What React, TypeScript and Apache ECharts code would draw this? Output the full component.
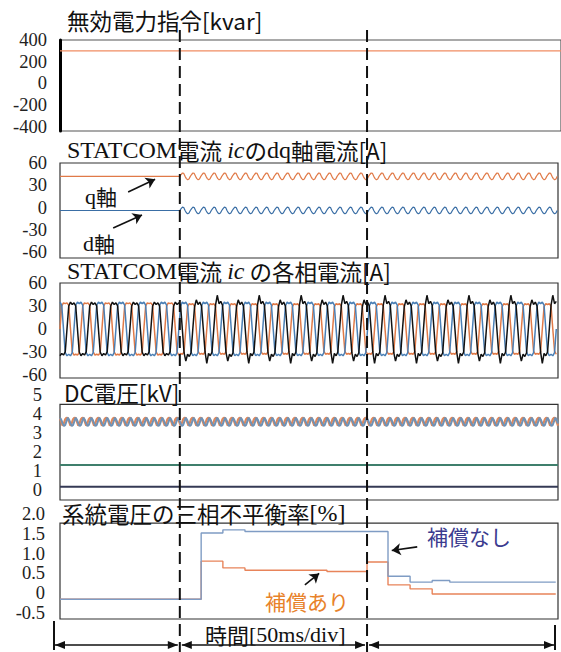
import React, { useEffect, useRef } from "react";
import * as echarts from "echarts";

// ---------- time frame (ms) ----------
const T_END = 133;
const T_END_PANEL1 = 134.6;
const T_MARK_1 = 32;
const T_MARK_2 = 82;

// ---------- panel 1 : reactive power command ----------
const Q_CMD_TIMES = [0, 134.6];
const Q_CMD_KVAR = [300, 300];
const Q_CMD_TICKS = [400, 200, 0, -200, -400];

// ---------- panel 2 : dq currents ----------
const DQ_TICKS = [60, 30, 0, -30, -60];
const Q_AXIS_STEADY = 42;
const D_AXIS_STEADY = -4;
const DQ_RIPPLE_STEP = 0.35;
const Q_RIPPLE_CYCLE = [42, 44.5, 46.5, 46, 42, 39, 37.5, 38.5];
const D_RIPPLE_CYCLE = [-4, -1.5, 0.5, 0, -4, -7, -8.5, -7.5];
const Q_ARROW = [[18.2, 21], [25.4, 38]];
const D_ARROW = [[14.2, -27.6], [21.9, -10]];

// ---------- panel 3 : phase currents ----------
const PHASE_TICKS = [60, 30, 0, -30, -60];
const PHASE_STEP = 0.4667;
const ORANGE_PRE = [0, 30, 34, 33, 34, 31, 0, -30, -34, -33, -34, -31];
const BLUE_PRE = [0, 31, 35, 33, 35, 31, 0, -31, -35, -33, -35, -31];
const BLACK_PRE = [0, 30, 35, 32, 34, 30, 0, -30, -35, -32, -34, -30];
const ORANGE_POST = [0, 29, 33, 32, 33, 30, 0, -29, -33, -32, -33, -30];
const BLUE_POST = [0, 30, 35, 33, 35, 31, 0, -30, -35, -33, -35, -31];
const BLACK_POST = [0, 31, 44, 33, 36, 31, 0, -31, -42, -33, -36, -31, 0, 29, 38, 32, 35, 30, 0, -30, -45, -32, -35, -30];

// ---------- panel 4 : DC voltage ----------
const DC_TICKS = [5, 4, 3, 2, 1, 0];
const DC_FRAME = [-0.55, 4.5];
const DC_STEP = 0.35;
const DC_ORANGE_CYCLE = [3.78, 3.58, 3.38, 3.52, 3.72, 3.8];
const DC_BLUE_CYCLE = [3.42, 3.62, 3.8, 3.68, 3.5, 3.36];
const DC_GREEN_KV = 1.3;
const DC_DARK_KV = 0.15;

// ---------- panel 5 : unbalance rate ----------
const UNBAL_TICKS = [2.0, 1.5, 1.0, 0.5, 0, -0.5];
const UNBAL_FRAME = [-0.65, 1.77];
const UNBAL_BLUE_TIMES = [0, 37.7, 43.5, 49.4, 87.6, 93.5, 99.4, 104.1, 132.4];
const UNBAL_BLUE_VALUES = [-0.15, 1.52, 1.6, 1.56, 0.43, 0.28, 0.32, 0.28, 0.28];
const UNBAL_ORANGE_TIMES = [0, 37.7, 43.5, 49.4, 71.3, 82, 87.6, 93.5, 99.4, 132.4];
const UNBAL_ORANGE_VALUES = [-0.15, 0.81, 0.64, 0.58, 0.55, 0.79, 0.21, 0.11, -0.02, -0.02];
const NASHI_ARROW = [[95.4, 1.17], [88.6, 1.08]];
const ARI_ARROW = [[65.4, 0.21], [69.2, 0.5]];

// ---------- styles ----------
const CJK = "Noto Sans CJK JP";
const SERIF = "Liberation Serif";
const C_ORANGE = "#e07a48";
const C_BLUE = "#3a6ea5";
const C_BLACK = "#111";

function tile(cycle: number[], step: number, t0: number, t1: number, offset = 0) {
  const out: number[][] = [];
  for (let i = 0; ; i++) {
    const t = t0 + i * step;
    if (t > t1 + 1e-9) break;
    out.push([+t.toFixed(4), cycle[(i + offset) % cycle.length]]);
  }
  return out;
}

function phase(pre: number[], post: number[], offset: number) {
  const out: number[][] = [];
  for (let i = 0; ; i++) {
    const t = i * PHASE_STEP;
    if (t > T_END + 1e-9) break;
    const tpl = t < T_MARK_1 ? pre : post;
    out.push([+t.toFixed(4), tpl[(i + offset) % tpl.length]]);
  }
  return out;
}

const zip = (a: number[], b: number[]) => a.map((x, i) => [x, b[i]]);

const arrowLine = (pts: number[][]) => ({
  silent: true,
  symbol: ["none", "arrow"],
  symbolSize: 9,
  label: { show: false },
  lineStyle: { color: "#111", width: 1.6, type: "solid" },
  emphasis: { disabled: true },
  data: [[{ coord: pts[0] }, { coord: pts[1] }]],
});

const frameArea = (range: number[]) => ({
  silent: true,
  itemStyle: { color: "rgba(0,0,0,0)", borderColor: "#333", borderWidth: 1.2 },
  label: { show: false },
  emphasis: { disabled: true },
  data: [[{ yAxis: range[0] }, { yAxis: range[1] }]],
});

const yLabel = (ticks: number[], margin: number, fmt?: (v: number) => string) => ({
  show: true,
  customValues: ticks,
  margin,
  fontFamily: SERIF,
  fontSize: 18.5,
  color: "#222",
  formatter: fmt || ((v: number) => String(v)),
});

export default function App() {
  const ref = useRef<HTMLDivElement>(null);
  useEffect(() => {
    document.body.style.margin = "0";
    if (!ref.current) return;
    const chart = echarts.init(ref.current, undefined, { renderer: "svg" });

    const grids = [
      { left: 60, right: -3, top: 40, height: 91, show: true, borderColor: "#555", borderWidth: 1.2 },
      { left: 60, right: 3, top: 163, height: 95, show: true, borderColor: "#333", borderWidth: 1.2 },
      { left: 60, right: 3, top: 283, height: 95, show: true, borderColor: "#333", borderWidth: 1.2 },
      { left: 60, right: 3, top: 395, height: 105, show: false },
      { left: 60, right: 3, top: 514, height: 105, show: false },
    ];
    const xAxes = grids.map((_, i) => ({
      type: "value",
      gridIndex: i,
      min: 0,
      max: i === 0 ? T_END_PANEL1 : T_END,
      show: false,
    }));
    const yBase = { type: "value", splitLine: { show: false }, axisTick: { show: false } };
    const yAxes = [
      { ...yBase, gridIndex: 0, min: -437, max: 400, axisLine: { show: true, lineStyle: { color: "#000", width: 3 } }, axisLabel: yLabel(Q_CMD_TICKS, 13) },
      { ...yBase, gridIndex: 1, min: -68, max: 60, axisLine: { show: false }, axisLabel: yLabel(DQ_TICKS, 13) },
      { ...yBase, gridIndex: 2, min: -64, max: 60, axisLine: { show: false }, axisLabel: yLabel(PHASE_TICKS, 13) },
      { ...yBase, gridIndex: 3, min: -0.55, max: 5, axisLine: { show: false }, axisLabel: yLabel(DC_TICKS, 18) },
      { ...yBase, gridIndex: 4, min: -0.65, max: 2.0, axisLine: { show: false }, axisLabel: yLabel(UNBAL_TICKS, 15, (v) => (v === 0 ? "0" : v.toFixed(1))) },
    ];

    const base = { type: "line", showSymbol: false, symbol: "none", silent: true, animation: false };
    const qData = [[0, Q_AXIS_STEADY], ...tile(Q_RIPPLE_CYCLE, DQ_RIPPLE_STEP, T_MARK_1, T_END)];
    const dData = [[0, D_AXIS_STEADY], ...tile(D_RIPPLE_CYCLE, DQ_RIPPLE_STEP, T_MARK_1, T_END)];

    const series: any[] = [
      { ...base, xAxisIndex: 0, yAxisIndex: 0, data: zip(Q_CMD_TIMES, Q_CMD_KVAR), lineStyle: { color: "#f08c62", width: 1.2 } },
      { ...base, xAxisIndex: 1, yAxisIndex: 1, data: qData, lineStyle: { color: C_ORANGE, width: 1.2 }, markLine: arrowLine(Q_ARROW) },
      { ...base, xAxisIndex: 1, yAxisIndex: 1, data: dData, lineStyle: { color: C_BLUE, width: 1.2 }, markLine: arrowLine(D_ARROW) },
      { ...base, xAxisIndex: 2, yAxisIndex: 2, data: phase(ORANGE_PRE, ORANGE_POST, 0), lineStyle: { color: C_ORANGE, width: 1.5 } },
      { ...base, xAxisIndex: 2, yAxisIndex: 2, data: phase(BLUE_PRE, BLUE_POST, 4), lineStyle: { color: "#4a7fb5", width: 1.5 } },
      { ...base, xAxisIndex: 2, yAxisIndex: 2, data: phase(BLACK_PRE, BLACK_POST, 8), lineStyle: { color: C_BLACK, width: 1.5 } },
      { ...base, xAxisIndex: 3, yAxisIndex: 3, data: [[0, DC_DARK_KV], [T_END, DC_DARK_KV]], lineStyle: { color: "#353a55", width: 2 }, markArea: frameArea(DC_FRAME) },
      { ...base, xAxisIndex: 3, yAxisIndex: 3, data: [[0, DC_GREEN_KV], [T_END, DC_GREEN_KV]], lineStyle: { color: "#3f7f6c", width: 2.2 } },
      { ...base, xAxisIndex: 3, yAxisIndex: 3, data: tile(DC_ORANGE_CYCLE, DC_STEP, 0, T_END), lineStyle: { color: "#e0875a", width: 2.2 } },
      { ...base, xAxisIndex: 3, yAxisIndex: 3, data: tile(DC_BLUE_CYCLE, DC_STEP, 0, T_END, 2), lineStyle: { color: "#6f92b6", width: 2 } },
      { ...base, xAxisIndex: 4, yAxisIndex: 4, step: "end", data: zip(UNBAL_ORANGE_TIMES, UNBAL_ORANGE_VALUES), lineStyle: { color: "#e8845a", width: 1.4 }, markArea: frameArea(UNBAL_FRAME), markLine: arrowLine(ARI_ARROW) },
      { ...base, xAxisIndex: 4, yAxisIndex: 4, step: "end", data: zip(UNBAL_BLUE_TIMES, UNBAL_BLUE_VALUES), lineStyle: { color: "#7f9cc4", width: 1.4 }, markLine: arrowLine(NASHI_ARROW) },
    ];

    const rich = {
      s: { fontFamily: SERIF, fontSize: 24, color: "#111", lineHeight: 26 },
      i: { fontFamily: SERIF, fontSize: 24, fontStyle: "italic", color: "#111", lineHeight: 26 },
      j: { fontFamily: CJK, fontSize: 22.5, color: "#111", lineHeight: 26 },
    };
    const mkTitle = (text: string, left: number, top: number) => ({
      text,
      left,
      top,
      padding: 0,
      textStyle: { fontFamily: CJK, fontSize: 22.5, fontWeight: "normal", color: "#111", lineHeight: 26, rich },
    });

    chart.setOption({
      animation: false,
      backgroundColor: "#fff",
      title: [
        mkTitle("{j|無効電力指令[kvar]}", 67, 7),
        mkTitle("{s|STATCOM}{j|電流 }{i|ic}{j|の}{s|dq}{j|軸電流[A]}", 67, 137),
        mkTitle("{s|STATCOM}{j|電流 }{i|ic}{j| の各相電流[A]}", 67, 258),
        mkTitle("{j|DC電圧[kV]}", 64, 379),
        mkTitle("{j|系統電圧の三相不平衡率}{s|[%]}", 62, 500),
      ],
      grid: grids,
      xAxis: xAxes,
      yAxis: yAxes,
      series,
    });

    const px = (t: number) => (chart.convertToPixel({ gridIndex: 1 } as any, [t, 0]) as number[])[0];
    const x0 = px(0) - 6;
    const x1 = px(T_MARK_1);
    const x2 = px(T_MARK_2);
    const x3 = px(T_END) - 3;
    const ay = 645;
    const head = (xt: number, dir: number) => ({
      type: "polygon",
      shape: { points: [[xt, ay], [xt - dir * 10, ay - 4], [xt - dir * 10, ay + 4]] },
      style: { fill: "#111" },
      z: 100,
    });
    const dbl = (xa: number, xb: number) => [
      { type: "line", shape: { x1: xa, y1: ay, x2: xb, y2: ay }, style: { stroke: "#111", lineWidth: 1.6 }, z: 100 },
      head(xa, -1),
      head(xb, 1),
    ];
    const dashed = (x: number) => ({
      type: "line",
      shape: { x1: x, y1: 30, x2: x, y2: 652 },
      style: { stroke: "#111", lineWidth: 2, lineDash: [12, 6] },
      z: 100,
    });
    const txt = (text: string, x: number, y: number, fill: string, size: number, r?: any) => ({
      type: "text",
      x,
      y,
      z: 101,
      style: { text, fill, font: `${size}px ${CJK}`, verticalAlign: "middle", align: "left", rich: r },
    });
    const annRich = {
      s: { fontFamily: SERIF, fontSize: 22, fill: "#111" },
      j: { fontFamily: CJK, fontSize: 21, fill: "#111" },
    };
    const timeRich = {
      j: { fontFamily: CJK, fontSize: 22, fill: "#111" },
      s: { fontFamily: SERIF, fontSize: 22, fill: "#111" },
    };

    chart.setOption({
      graphic: [
        dashed(x1),
        dashed(x2),
        { type: "line", shape: { x1: x0, y1: 621, x2: x0, y2: 650 }, style: { stroke: "#111", lineWidth: 2 }, z: 100 },
        { type: "line", shape: { x1: x3, y1: 625, x2: x3, y2: 650 }, style: { stroke: "#111", lineWidth: 2 }, z: 100 },
        ...dbl(x0 + 1, x1 - 2),
        ...dbl(x1 + 2, x2 - 2),
        ...dbl(x2 + 2, x3 - 1),
        txt("{j|時間}{s|[50ms/div]}", 205, 634, "#111", 22, timeRich),
        txt("{s|q}{j|軸}", 85, 196, "#111", 21, annRich),
        txt("{s|d}{j|軸}", 83, 243, "#111", 21, annRich),
        txt("補償なし", 427, 536, "#3b3b8f", 21),
        txt("補償あり", 265, 601, "#e8822a", 21),
      ],
    });

    return () => chart.dispose();
  }, []);
  return <div ref={ref} style={{ width: 561, height: 652 }} />;
}
